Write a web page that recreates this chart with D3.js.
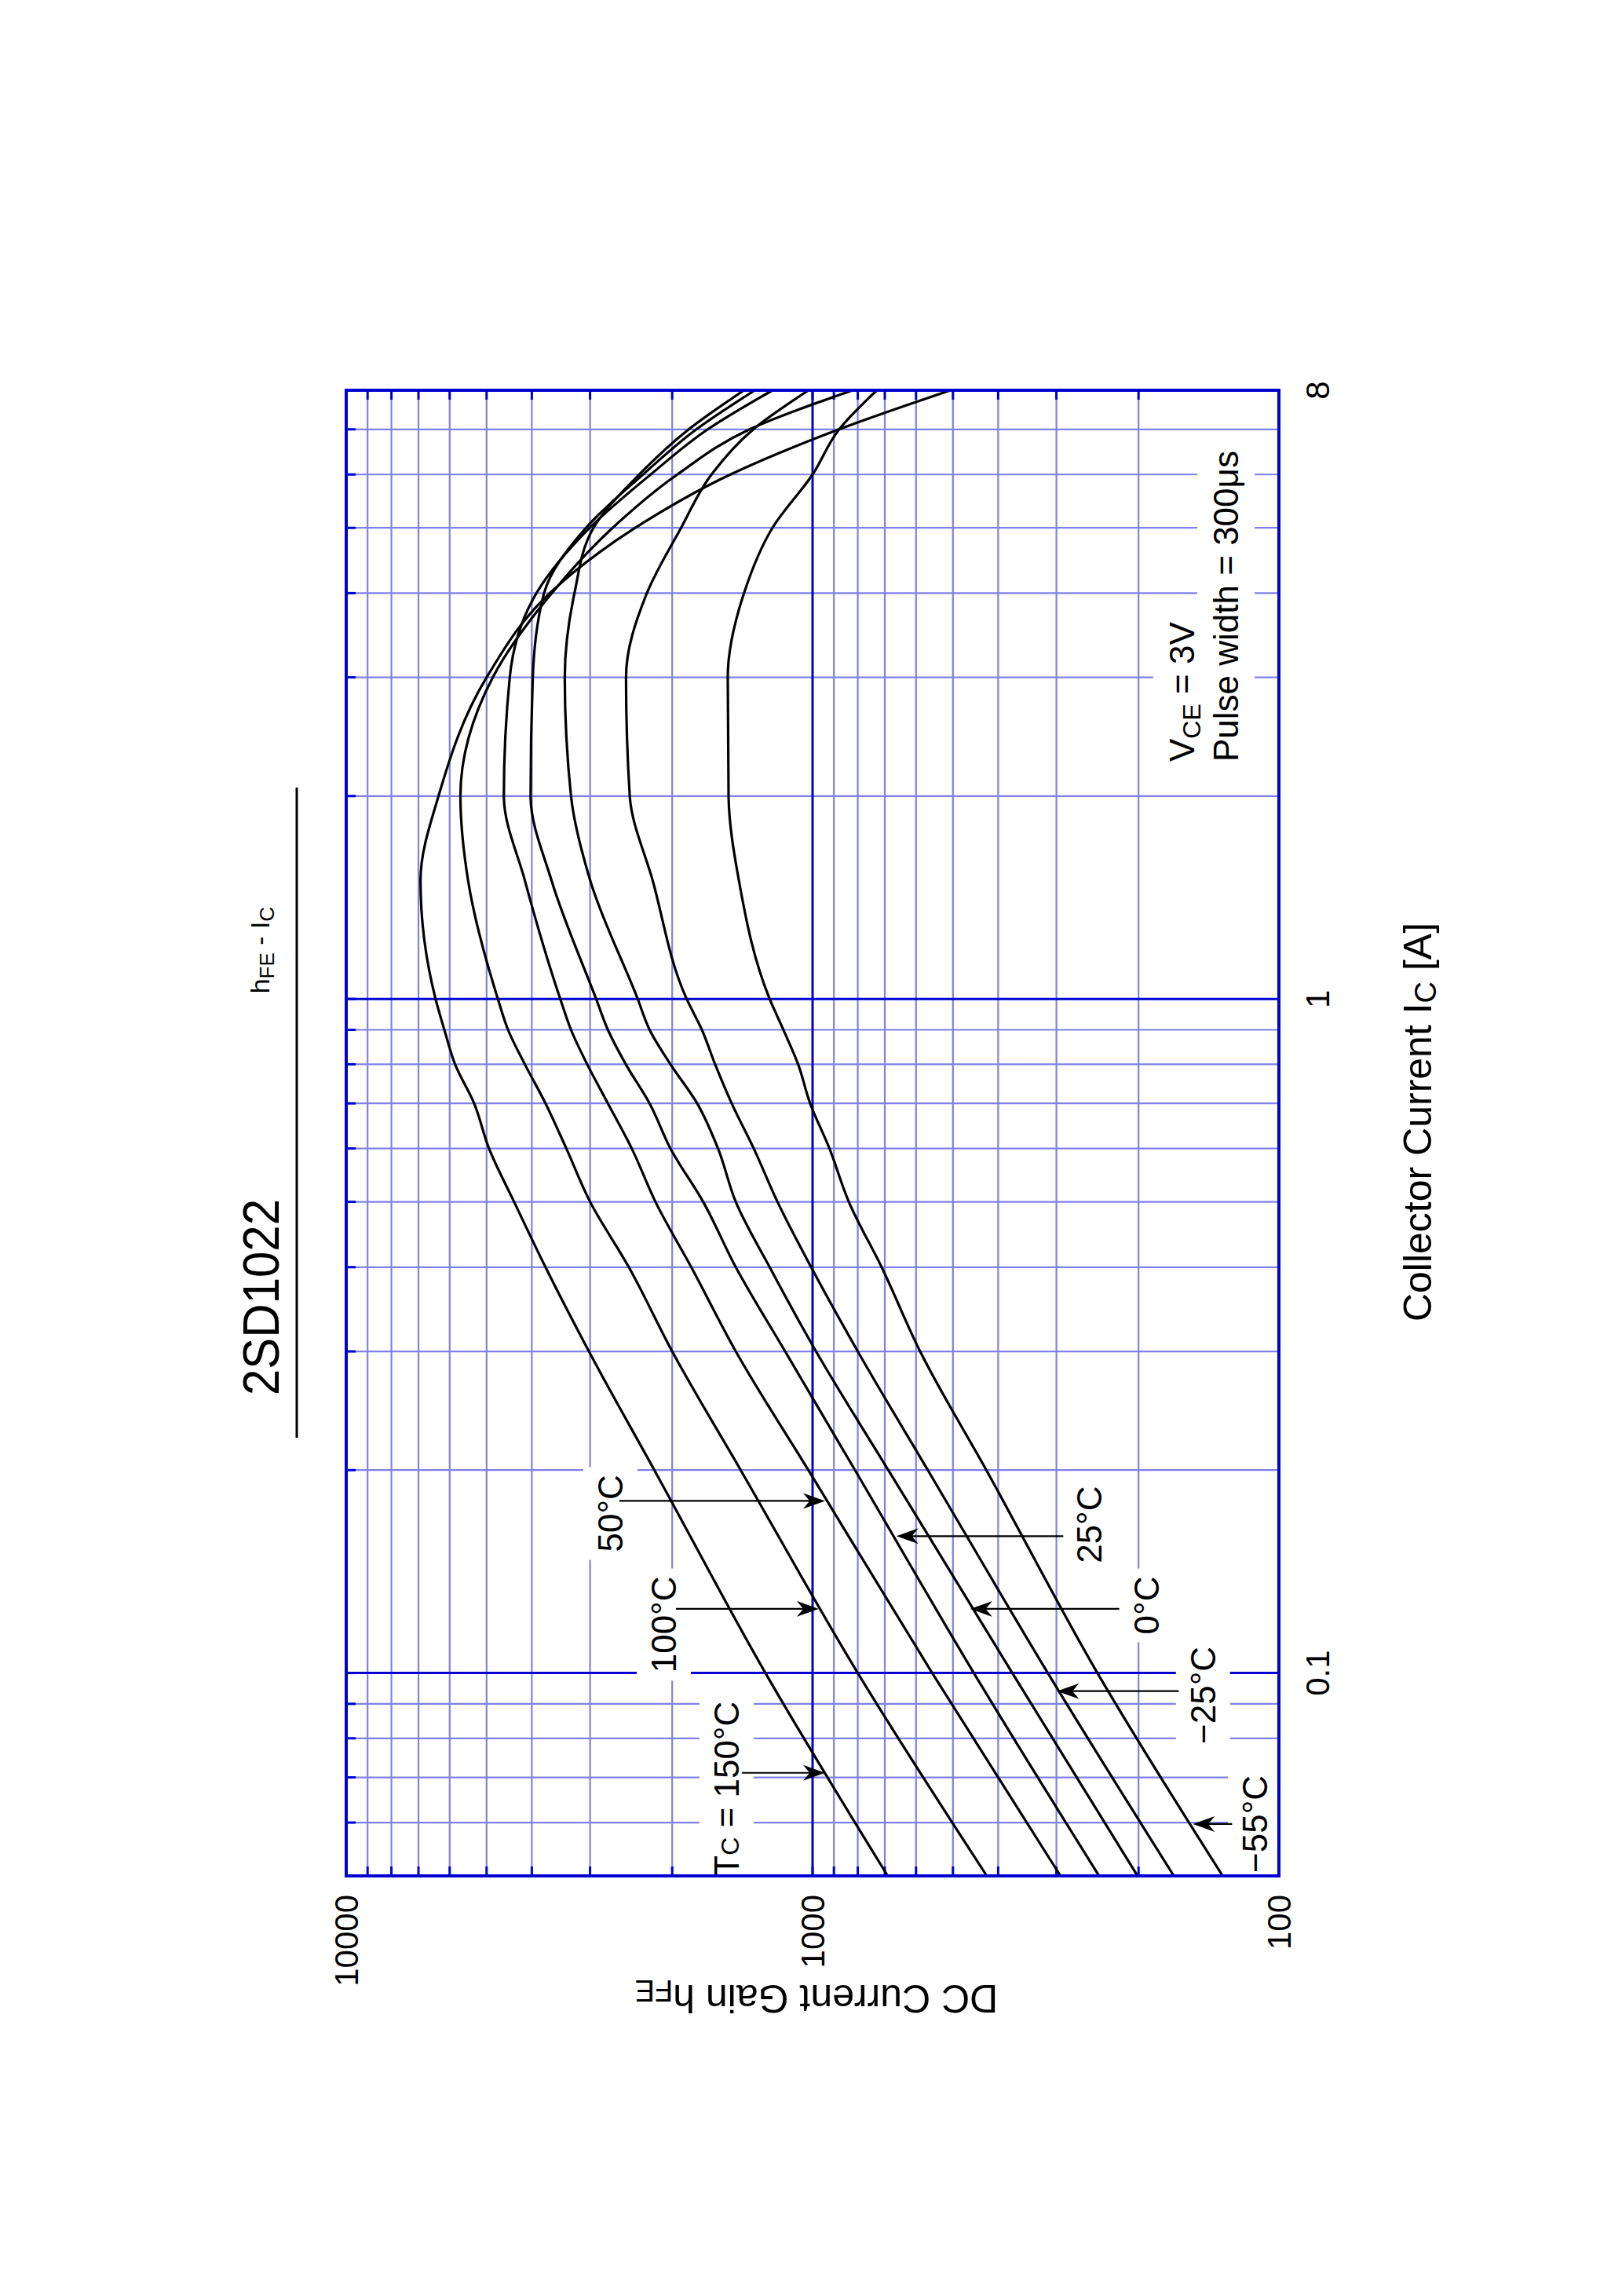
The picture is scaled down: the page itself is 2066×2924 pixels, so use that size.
<!DOCTYPE html>
<html><head><meta charset="utf-8">
<script src="https://cdn.jsdelivr.net/npm/d3@7/dist/d3.min.js"></script>
<style>body{margin:0;background:#fff}svg{display:block}text{font-family:"Liberation Sans Narrow","Liberation Sans",Arial,sans-serif;fill:#000}</style>
</head><body><svg id="c" width="2066" height="2924"></svg>
<script>
const icPoints = [0.05,0.1,0.2,0.3,0.4,0.5,0.6,0.7,0.8,0.9,1,1.5,2,3,4,5,6,7,8];
const temps = ["150","100","50","25","0","-25","-55"];
const hfe150 = [690,1262,2184,3017,3738,4365,4941,5318,5843,6160,6434,6930,6340,5000,3660,2400,1500,878,506];
const hfe100 = [423,800,1426,2000,2477,2999,3373,3738,4140,4498,4729,5480,5690,4850,3624,2684,1950,1365,820];
const hfe50  = [294,554,1021,1461,1820,2172,2442,2747,3043,3296,3475,4140,4592,4460,3909,3006,2224,1678,1218];
const hfe25  = [243,451,811,1145,1461,1716,2017,2236,2515,2747,2911,3630,4024,3981,3765,3062,2310,1775,1330];
const hfe0   = [201,373,688,983,1236,1461,1595,1768,2017,2236,2371,2999,3296,3399,3240,2950,2353,1843,1403];
const hfeM25 = [168,313,566,800,1007,1189,1337,1491,1618,1727,1862,2203,2466,2512,2266,1914,1647,1340,1020];
const hfeM55 = [132,245,424,588,711,836,920,1012,1074,1155,1236,1439,1514,1520,1403,1219,1000,877,728];
const series = [hfe150,hfe100,hfe50,hfe25,hfe0,hfeM25,hfeM55];
const icMinor = [0.06,0.07,0.08,0.09,0.2,0.3,0.4,0.5,0.6,0.7,0.8,0.9,2,3,4,5,6,7];
const icMajor = [0.1,1];
const hfeMinor = [200,300,400,500,600,700,800,900,2000,3000,4000,5000,6000,7000,8000,9000];
const hfeMajor = [1000];
const icTickLabels = [[0.1,"0.1"],[1,"1"],[8,"8"]];
const hfeTickLabels = [[10000,"10000"],[1000,"1000"],[100,"100"]];
// labels: [text, Ic center, hFE baseline]
const tempLabels = [["50°C",0.1725,2555],["25°C",0.166,240],["100°C",0.118,1963],["0°C",0.126,181],["−25°C",0.0927,137],["TC = 150°C",0.0673,1440],["−55°C",0.0597,106]];
// arrows: [Ic, hFE from, hFE tip]
const arrows = [[0.180,2595,940],[0.1596,290,661],[0.1245,1963,970],[0.1245,220,459],[0.094,164,299],[0.0711,1418,940],[0.0597,126,153]];

const W=1892,H=1188;
const svg=d3.select("#c");
const g=svg.append("g").attr("transform","translate(441,2389) rotate(-90)");
const x=d3.scaleLog().domain([0.05,8]).range([0,W]);
const y=d3.scaleLog().domain([10000,100]).range([0,H]);
const minorC="#8080e8", majorC="#0000d0";
// grid
g.selectAll(".gx").data(icMinor).join("line").attr("x1",d=>x(d)).attr("x2",d=>x(d)).attr("y1",0).attr("y2",H).attr("stroke",minorC).attr("stroke-width",2.2);
g.selectAll(".gy").data(hfeMinor).join("line").attr("y1",d=>y(d)).attr("y2",d=>y(d)).attr("x1",0).attr("x2",W).attr("stroke",minorC).attr("stroke-width",2.2);
g.selectAll(".gX").data(icMajor).join("line").attr("x1",d=>x(d)).attr("x2",d=>x(d)).attr("y1",0).attr("y2",H).attr("stroke",majorC).attr("stroke-width",3);
g.selectAll(".gY").data(hfeMajor).join("line").attr("y1",d=>y(d)).attr("y2",d=>y(d)).attr("x1",0).attr("x2",W).attr("stroke",majorC).attr("stroke-width",3);
// ticks
const tk=12;
icMinor.concat(icMajor).forEach(d=>{
  g.append("line").attr("x1",x(d)).attr("x2",x(d)).attr("y1",0).attr("y2",tk).attr("stroke",majorC).attr("stroke-width",3);
});
hfeMinor.concat(hfeMajor).forEach(d=>{
  g.append("line").attr("y1",y(d)).attr("y2",y(d)).attr("x1",0).attr("x2",tk).attr("stroke",majorC).attr("stroke-width",3);
  g.append("line").attr("y1",y(d)).attr("y2",y(d)).attr("x1",W-tk).attr("x2",W).attr("stroke",majorC).attr("stroke-width",3);
});
// label layer (white boxes)
const boxLayer=g.append("g");
const labLayer=g.append("g");
function addBox(t,pad){const b=t.node().getBBox();boxLayer.append("rect").attr("x",b.x-pad).attr("y",b.y-pad).attr("width",b.width+2*pad).attr("height",b.height+2*pad).attr("fill","#fff");}
tempLabels.forEach(([s,ic,h])=>{
  const t=labLayer.append("text").attr("x",x(ic)).attr("y",y(h)).attr("text-anchor","middle").attr("font-size",44);
  if(s.startsWith("TC")){t.append("tspan").text("T");t.append("tspan").attr("font-size",32).text("C");t.append("tspan").text(" = 150°C");}
  else t.text(s);
  addBox(t,10);
});
const v1=labLayer.append("text").attr("x",x(0.05)+1419).attr("y",1080).attr("font-size",44);
v1.append("tspan").text("V");v1.append("tspan").attr("font-size",32).attr("dy",8).text("CE");v1.append("tspan").attr("dy",-8).text(" = 3V");
const v2=labLayer.append("text").attr("x",x(0.05)+1419).attr("y",1136).attr("font-size",44).text("Pulse width = 300μs");
addBox(v1,12);addBox(v2,12);
// curves
const line=d3.line().x((d,i)=>x(icPoints[i])).y(d=>y(d)).curve(d3.curveMonotoneX);
const cg=g.append("g");
series.forEach(s=>cg.append("path").attr("d",line(s)).attr("fill","none").attr("stroke","#000").attr("stroke-width",3.2));
// arrows
arrows.forEach(([ic,h0,h1])=>{
  const xx=x(ic),y0=y(h0),y1=y(h1),dir=Math.sign(y1-y0),L=28,hw=10;
  cg.append("line").attr("x1",xx).attr("x2",xx).attr("y1",y0).attr("y2",y1-dir*L*0.6).attr("stroke","#000").attr("stroke-width",2.2);
  cg.append("path").attr("d",`M${xx},${y1}L${xx-hw},${y1-dir*L}L${xx},${y1-dir*L*0.7}L${xx+hw},${y1-dir*L}Z`).attr("fill","#000");
});
// frame
g.append("rect").attr("x",0).attr("y",0).attr("width",W).attr("height",H).attr("fill","none").attr("stroke",majorC).attr("stroke-width",4);
// tick labels
icTickLabels.forEach(([v,s])=>g.append("text").attr("x",x(v)).attr("y",H+64).attr("text-anchor","middle").attr("font-size",42).text(s));
hfeTickLabels.forEach(([v,s])=>g.append("text").attr("x",-24).attr("y",y(v)).attr("text-anchor","end").attr("dominant-baseline","central").attr("font-size",42).text(s));
// titles
g.append("text").attr("x",x(0.05)+737).attr("y",-86).attr("text-anchor","middle").attr("font-size",64).attr("textLength",250).attr("lengthAdjust","spacingAndGlyphs").text("2SD1022");
g.append("line").attr("x1",558).attr("x2",1386).attr("y1",-63).attr("y2",-63).attr("stroke","#000").attr("stroke-width",3);
const ht=g.append("text").attr("x",1179).attr("y",-98).attr("text-anchor","middle").attr("font-size",34);
ht.append("tspan").text("h");ht.append("tspan").attr("font-size",26).attr("dy",6).text("FE");ht.append("tspan").attr("dy",-6).text(" - I");ht.append("tspan").attr("font-size",26).attr("dy",6).text("C");
const xl=g.append("text").attr("x",960).attr("y",1382).attr("text-anchor","middle").attr("font-size",50);
xl.append("tspan").text("Collector Current  I");xl.append("tspan").attr("font-size",38).attr("dy",6).text("C");xl.append("tspan").attr("dy",-6).text(" [A]");
// y label upside down
const yl=svg.append("text").attr("transform","translate(1040,2528) rotate(180)").attr("text-anchor","middle").attr("font-size",50);
yl.append("tspan").text("DC Current Gain   h");yl.append("tspan").attr("font-size",38).attr("dy",6).text("FE");
</script></body></html>
